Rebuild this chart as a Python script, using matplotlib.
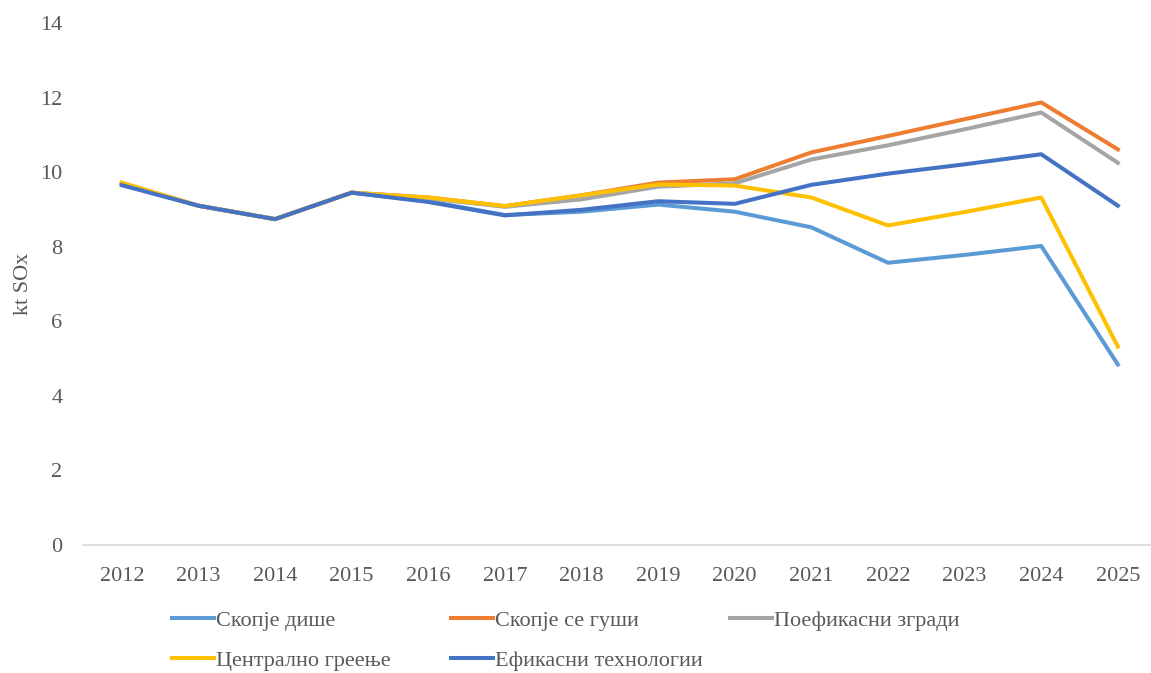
import numpy as np
import matplotlib.pyplot as plt
from matplotlib.lines import Line2D

years = [str(y) for y in range(2012, 2026)]

skopje_dishe = [9.70, 9.10, 8.74, 9.45, 9.22, 8.85, 8.94, 9.13, 8.94, 8.52, 7.57, 7.78, 8.02, 4.84]
skopje_gushi = [9.70, 9.10, 8.74, 9.45, 9.32, 9.09, 9.38, 9.72, 9.81, 10.53, 10.97, 11.42, 11.87, 10.61]
poefikasni = [9.70, 9.10, 8.74, 9.45, 9.30, 9.07, 9.27, 9.61, 9.70, 10.34, 10.72, 11.15, 11.60, 10.25]
centralno = [9.72, 9.10, 8.74, 9.45, 9.32, 9.09, 9.38, 9.67, 9.64, 9.32, 8.57, 8.93, 9.32, 5.32]
efikasni = [9.65, 9.10, 8.74, 9.45, 9.20, 8.84, 8.99, 9.22, 9.15, 9.66, 9.96, 10.21, 10.48, 9.10]

names = ['Скопје дише', 'Скопје се гуши', 'Поефикасни згради',
         'Централно греење', 'Ефикасни технологии']
colors = ['#5B9BD5', '#ED7D31', '#A5A5A5', '#FFC000', '#4472C4']
series = [skopje_dishe, skopje_gushi, poefikasni, centralno, efikasni]

plt.rcParams['font.family'] = ['Liberation Serif', 'DejaVu Serif']
txt = '#595959'
fs = 16

fig = plt.figure(figsize=(11.51, 6.73), dpi=100)
ax = fig.add_axes([0.0725, 0.1902, 0.932, 0.7756])

x = np.arange(len(years))
for vals, c, n in zip(series, colors, names):
    ax.plot(x, vals, color=c, lw=2.9, label=n, solid_joinstyle='round')

ax.set_xlim(-0.5, len(years) - 0.5)
ax.set_ylim(0, 14)
ax.set_yticks(range(0, 15, 2))
ax.set_xticks(x)
ax.set_xticklabels(years)
ax.tick_params(axis='both', length=0, labelsize=fs, colors=txt)
ax.tick_params(axis='y', pad=15)
ax.tick_params(axis='x', pad=16)
for s in ['top', 'right', 'left']:
    ax.spines[s].set_visible(False)
ax.spines['bottom'].set_color('#D9D9D9')
ax.spines['bottom'].set_linewidth(1.2)
ax.set_ylabel('kt SOx', fontsize=fs, color=txt, labelpad=5)

# legend laid out like the original, fixed column positions
handles = [Line2D([], [], color=c, lw=2.9) for c in colors]
cols = [[0, 3], [1, 4], [2]]
col_x = [172 / 1151, 451 / 1151, 730 / 1151]
for xs, idx in zip(col_x, cols):
    fig.legend([handles[i] for i in idx], [names[i] for i in idx],
               loc='upper left', bbox_to_anchor=(xs, 1 - 610 / 673),
               frameon=False, fontsize=fs, labelcolor=txt,
               handlelength=1.9, handletextpad=0.1, labelspacing=0.9,
               borderpad=0, borderaxespad=0)

fig.savefig('out.png', dpi=100)
